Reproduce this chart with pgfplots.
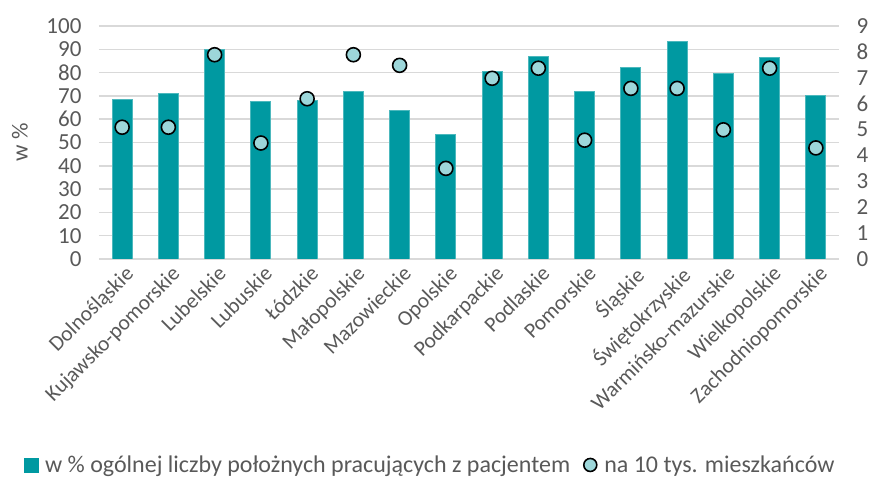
\documentclass[border=0pt]{standalone}
\usepackage{fontspec}
\setmainfont{Carlito}
\usepackage{pgfplots}
\pgfplotsset{compat=1.18}
\definecolor{barc}{RGB}{0,153,161}
\definecolor{dotc}{RGB}{157,215,218}
\definecolor{txt}{RGB}{89,89,89}
\definecolor{gridc}{RGB}{217,217,217}
\begin{document}
\begin{tikzpicture}[x=1pt,y=1pt]
\useasboundingbox (0,0) rectangle (878,478);
\begin{axis}[
  at={(99pt,219pt)}, anchor=south west,
  scale only axis, width=740pt, height=233pt,
  xmin=-0.5, xmax=15.5, ymin=0, ymax=100,
  ytick={0,10,...,100},
  xtick={0,...,15},
  xticklabels={Dolnośląskie,Kujawsko-pomorskie,Lubelskie,Lubuskie,Łódzkie,Małopolskie,Mazowieckie,Opolskie,Podkarpackie,Podlaskie,Pomorskie,Śląskie,Świętokrzyskie,Warmińsko-mazurskie,Wielkopolskie,Zachodniopomorskie},
  x tick label style={rotate=45, anchor=north east, font=\fontsize{21.5}{24}\selectfont, text=txt, xshift=1pt, yshift=-2pt},
  y tick label style={font=\fontsize{23}{26}\selectfont, text=txt, xshift=-14pt},
  /pgf/number format/assume math mode=true,
  axis line style={draw=none},
  major tick length=0pt,
  ymajorgrids, grid style={gridc, line width=1.5pt},
  ylabel={w \%}, ylabel style={font=\fontsize{23}{26}\selectfont, text=txt, at={(axis description cs:-0.107,0.5)}, anchor=center},
  legend columns=2,
  legend style={draw=none, fill=none, at={(axis description cs:0.447,-0.884)}, anchor=center, font=\fontsize{24}{28}\selectfont, text=txt, inner sep=0pt, /tikz/every even column/.append style={column sep=10pt}},
  legend image code/.code={\path[draw=none,fill=none] (-8pt,-8pt) rectangle (12pt,8pt); \draw[#1] plot coordinates {(0pt,0pt)};},
]
\addplot[ybar, bar width=20pt, fill=barc, draw=barc!70!white, line width=0.8pt, forget plot] coordinates {
(0,68.4) (1,71.1) (2,89.9) (3,67.8) (4,68.2) (5,72.1) (6,63.8) (7,53.3)
(8,80.4) (9,86.8) (10,72.1) (11,82.1) (12,93.4) (13,79.5) (14,86.4) (15,70.2)};
\addlegendimage{only marks, mark=square*, mark size=7pt, mark options={fill=barc, draw=barc}}
\addlegendentry{w \% ogólnej liczby położnych pracujących z pacjentem}
\addlegendimage{only marks, mark=*, mark size=6.5pt, mark options={fill=dotc, draw=black, line width=1.6pt}}
\addlegendentry{na 10 tys. mieszkańców}
\end{axis}
\begin{axis}[
  at={(99pt,219pt)}, anchor=south west,
  scale only axis, width=740pt, height=233pt,
  xmin=-0.5, xmax=15.5, ymin=0, ymax=9,
  ytick={0,1,...,9},
  axis y line*=right,
  axis x line=none,
  y tick label style={font=\fontsize{23}{26}\selectfont, text=txt, xshift=14pt},
  /pgf/number format/assume math mode=true,
  axis line style={draw=none},
  major tick length=0pt,
]
\addplot[only marks, mark=*, mark size=7pt, mark options={fill=dotc, draw=black, line width=1.6pt}] coordinates {
(0,5.09) (1,5.09) (2,7.89) (3,4.48) (4,6.19) (5,7.89) (6,7.48) (7,3.50)
(8,6.98) (9,7.37) (10,4.59) (11,6.59) (12,6.59) (13,4.99) (14,7.37) (15,4.29)};
\end{axis}
\end{tikzpicture}
\end{document}
